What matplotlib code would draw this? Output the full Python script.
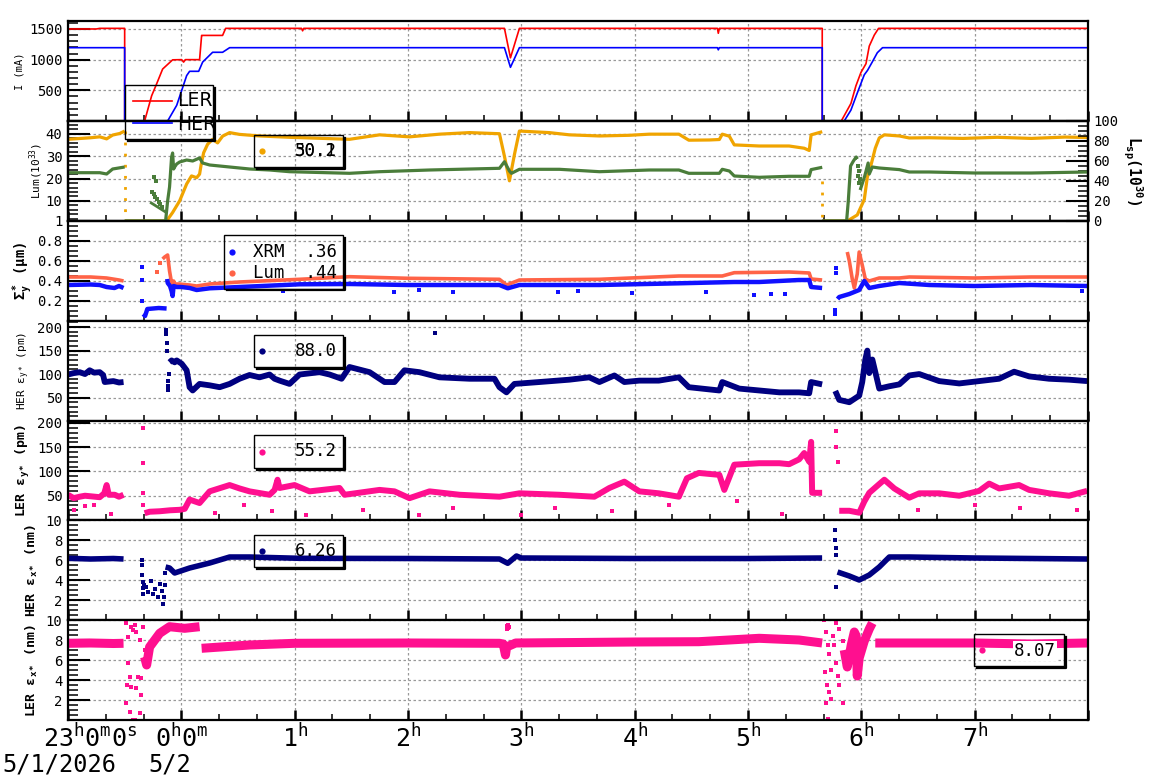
import numpy as np
import matplotlib
matplotlib.use("Agg")
import matplotlib.pyplot as plt
from matplotlib.ticker import MultipleLocator, FixedLocator
from matplotlib.patches import Rectangle
from matplotlib.lines import Line2D

nan = np.nan

# ---------------- data (time in hours, 0 = 5/2 00:00) ----------------
ler_t = [-1.0, -0.75, -0.72, -0.50, -0.50, -0.324, -0.262, -0.218, -0.165, -0.077, 0.003, 0.02, 0.035, 0.161,
         0.179, 0.188, 0.364, 0.391, 1.06, 1.07, 1.08, 2.851, 2.904, 2.983, 4.730, 4.738, 4.747, 5.655, 5.655,
         5.823, 5.908, 5.952, 5.996, 6.041, 6.070, 6.114, 6.152, 7.992]
ler_I = [1500, 1500, 1510, 1510, 0, 0, 411, 605, 847, 997, 1000, 960, 1000, 1000, 1395, 1395, 1395, 1510, 1510,
         1470, 1510, 1510, 1030, 1510, 1510, 1430, 1510, 1510, 0, 0, 285, 572, 789, 934, 1221, 1400, 1510, 1510]
her_t = [-1.0, -0.50, -0.50, -0.121, -0.041, 0.003, 0.047, 0.073, 0.153, 0.188, 0.276, 0.364, 0.426, 2.851, 2.904,
         2.983, 4.730, 4.738, 4.747, 5.655, 5.655, 5.849, 5.908, 5.966, 6.026, 6.055, 6.099, 6.141, 6.187, 7.992]
her_I = [1195, 1195, 0, 0, 255, 497, 740, 810, 810, 960, 1120, 1120, 1195, 1195, 875, 1195, 1195, 1160, 1195, 1195,
         0, 0, 177, 464, 753, 826, 970, 1113, 1195, 1195]

lum_t = [-1.0, -0.80, -0.72, -0.659, -0.606, -0.544, -0.50, -0.50, -0.50, -0.13, -0.077, -0.015, 0.047, 0.090,
         0.135, 0.161, 0.176, 0.197, 0.232, 0.276, 0.320, 0.364, 0.426, 0.514, 0.690, 0.955, 1.484, 1.749, 2.013,
         2.278, 2.543, 2.807, 2.851, 2.895, 2.940, 2.983, 3.246, 3.424, 3.689, 3.953, 4.129, 4.390, 4.478, 4.659,
         4.747, 4.773, 4.835, 4.879, 5.099, 5.363, 5.496, 5.540, 5.557, 5.655, 5.655, 5.655, 5.876, 5.964, 6.026,
         6.053, 6.088, 6.123, 6.158, 6.203, 6.335, 6.423, 6.6, 6.9, 7.2, 7.5, 7.8, 7.992]
lum_v = [37.6, 38.3, 38.7, 37.8, 39.5, 40.2, 41.3, nan, 1.0, 1.0, 4.8, 10.0, 17.6, 21.2, 20.4, 22.0, 26.6, 31.6,
         35.4, 37.6, 36.0, 39.0, 40.6, 39.8, 39.1, 38.5, 37.6, 39.6, 38.7, 39.9, 40.6, 40.1, 30.0, 19.0, 31.0, 41.3,
         40.6, 39.6, 39.1, 39.4, 39.9, 39.9, 37.2, 37.3, 37.5, 39.9, 39.0, 35.1, 34.6, 34.6, 33.6, 32.6, 39.6, 41.0,
         nan, 1.0, 1.0, 3.7, 10.6, 20.7, 26.6, 33.6, 38.2, 39.6, 39.1, 38.2, 38.3, 38.0, 38.5, 38.0, 38.6, 38.4]
lum_drop_t = [-0.50, -0.50, nan, 5.655, 5.655]
lum_drop_v = [41.3, 1.0, nan, 19.0, 3.0]

lsp_t = [-1.0, -0.72, -0.659, -0.606, -0.50, -0.50, -0.50, -0.139, -0.121, -0.104, -0.086, -0.077, -0.068, -0.059,
         -0.041, -0.015, 0.047, 0.100, 0.161, 0.188, 0.250, 0.426, 0.602, 0.779, 0.955, 1.484, 1.749, 2.190, 2.807,
         2.851, 2.895, 2.913, 2.983, 3.336, 3.689, 4.129, 4.390, 4.478, 4.747, 4.773, 4.835, 4.879, 5.099, 5.363,
         5.540, 5.557, 5.655, 5.655, 5.655, 5.870, 5.885, 5.905, 5.930, 5.955, 5.965, 5.975, 5.990, 6.030, 6.060,
         6.070, 6.097, 6.158, 6.335, 6.423, 6.6, 7.0, 7.5, 7.992]
lsp_v = [48.3, 48.3, 47.0, 52.0, 54.0, nan, 0, 0, 20, 34, 64, 68, 52, 54, 57, 59, 61, 60, 63, 58, 56, 54, 52, 51,
         49.3, 47.7, 49.3, 51.0, 52.7, 59.3, 50.0, 47.7, 51.7, 51.7, 49.3, 51.0, 51.0, 47.7, 47.7, 51.7, 50.0, 45.0,
         43.7, 44.7, 44.7, 51.4, 53.7, nan, 0, 0, 20, 55, 60, 64, 62, nan, 31, 45, 58, 47, 54, 53, 51.4, 49, 49, 48,
         48, 49]
lsp_seg_t = [-0.265, -0.139]
lsp_seg_v = [18, 9]
lsp_pts_t = [-0.26, -0.245, -0.23, -0.215, -0.20, -0.185, -0.17, -0.24, -0.22, 5.968, 5.972, 5.978, 5.983, 5.987]
lsp_pts_v = [29, 27, 24, 22, 19, 17, 14, 44, 40, 55, 45, 50, 38, 42]

xrm_t = [-1.0, -0.80, -0.72, -0.66, -0.59, -0.55, -0.51, -0.34, -0.335, -0.32, -0.30, -0.20, -0.13, -0.13, -0.125,
         -0.12, -0.10, -0.086, -0.077, -0.068, -0.04, 0.0, 0.073, 0.135, 0.25, 0.514, 1.043, 1.484, 2.0, 2.5, 2.807,
         2.88, 2.983, 3.689, 4.390, 4.879, 5.099, 5.45, 5.540, 5.557, 5.654, 5.78, 5.79, 5.805, 5.894, 5.981, 6.026,
         6.070, 6.158, 6.335, 6.6, 7.0, 7.5, 7.992]
xrm_v = [0.36, 0.365, 0.36, 0.34, 0.33, 0.35, 0.33, nan, 0.07, 0.05, 0.12, 0.13, 0.125, nan, 0.42, 0.38, 0.35, 0.30,
         0.25, 0.35, 0.34, 0.34, 0.33, 0.31, 0.327, 0.34, 0.367, 0.37, 0.36, 0.36, 0.36, 0.327, 0.36, 0.36, 0.377,
         0.39, 0.39, 0.41, 0.41, 0.34, 0.33, nan, 0.22, 0.24, 0.27, 0.31, 0.40, 0.33, 0.35, 0.38, 0.36, 0.35, 0.36,
         0.35]
xrm_pts_t = [-0.35, -0.35, -0.345, 0.9, 1.88, 2.1, 2.40, 3.32, 3.5, 3.98, 4.63, 5.05, 5.20, 5.33, 5.77, 5.77, 5.78,
             5.78, 7.95]
xrm_pts_v = [0.54, 0.41, 0.20, 0.30, 0.29, 0.31, 0.29, 0.29, 0.30, 0.28, 0.29, 0.26, 0.27, 0.27, 0.11, 0.07, 0.53,
             0.48, 0.30]

slum_t = [-1.0, -0.8, -0.66, -0.55, -0.51, -0.235, -0.165, -0.147, -0.121, -0.104, -0.086, -0.077, -0.068, -0.059,
          -0.02, 0.073, 0.135, 0.25, 0.514, 1.043, 1.484, 2.0, 2.807, 2.87, 2.983, 3.689, 4.390, 4.773, 4.879, 5.363,
          5.540, 5.557, 5.654, 5.87, 5.876, 5.894, 5.920, 5.938, 5.964, 5.981, 6.008, 6.035, 6.070, 6.158, 6.335,
          6.423, 7.0, 7.5, 7.992]
slum_v = [0.44, 0.44, 0.43, 0.41, 0.40, nan, 0.62, 0.64, 0.66, 0.50, 0.38, 0.29, 0.40, 0.37, 0.37, 0.36, 0.35,
          0.37, 0.39, 0.417, 0.443, 0.427, 0.417, 0.36, 0.41, 0.417, 0.45, 0.45, 0.483, 0.49, 0.48, 0.42, 0.41, nan,
          0.69, 0.60, 0.42, 0.33, 0.47, 0.69, 0.56, 0.42, 0.40, 0.43, 0.43, 0.44, 0.43, 0.44, 0.44]
slum_pts_t = [-0.218, -0.19]
slum_pts_v = [0.49, 0.58]

hey_t = [-1.0, -0.95, -0.897, -0.85, -0.809, -0.77, -0.720, -0.69, -0.676, -0.60, -0.55, -0.51, -0.50, -0.104,
         -0.086, -0.059, -0.041, 0.003, 0.047, 0.073, 0.100, 0.161, 0.250, 0.338, 0.426, 0.514, 0.602, 0.690, 0.779,
         0.823, 0.867, 0.955, 1.043, 1.220, 1.308, 1.414, 1.484, 1.661, 1.793, 1.881, 1.969, 2.101, 2.278, 2.543,
         2.763, 2.807, 2.869, 2.939, 3.159, 3.424, 3.600, 3.689, 3.821, 3.909, 4.041, 4.213, 4.390, 4.478, 4.747,
         4.773, 4.923, 5.277, 5.451, 5.540, 5.557, 5.654, 5.66, 5.770, 5.805, 5.894, 5.981, 6.008, 6.035, 6.053,
         6.070, 6.097, 6.158, 6.247, 6.335, 6.423, 6.511, 6.687, 6.864, 7.040, 7.216, 7.348, 7.481, 7.657, 7.833,
         7.992]
hey_v = [99, 102, 104, 100, 108, 103, 104, 98, 83, 85, 82, 83, nan, 125, 129, 125, 129, 122, 108, 72, 65, 79, 76,
         72, 79, 90, 98, 93, 99, 90, 86, 79, 99, 104, 99, 90, 115, 104, 83, 83, 108, 104, 93, 90, 90, 72, 61, 79, 83,
         88, 93, 83, 97, 83, 86, 86, 93, 72, 65, 83, 69, 61, 61, 59, 83, 78, nan, 64, 45, 40, 54, 83, 131, 150, 102,
         131, 69, 74, 78, 97, 100, 85, 80, 85, 90, 105, 95, 90, 88, 85]
hey_pts_t = [-0.139, -0.135, -0.13, -0.125, -0.121, -0.118, -0.115, -0.11, 2.24]
hey_pts_v = [193, 185, 166, 150, 86, 65, 75, 100, 187]

ley_t = [-1.0, -0.95, -0.897, -0.85, -0.72, -0.68, -0.659, -0.64, -0.588, -0.55, -0.51, -0.50, -0.324, -0.28,
         -0.191, -0.10, -0.015, 0.03, 0.073, 0.161, 0.250, 0.426, 0.514, 0.602, 0.779, 0.823, 0.849, 0.867, 0.999,
         1.131, 1.396, 1.440, 1.749, 1.881, 2.013, 2.190, 2.455, 2.807, 2.983, 3.336, 3.644, 3.777, 3.909, 4.041,
         4.213, 4.390, 4.461, 4.566, 4.747, 4.791, 4.879, 5.099, 5.277, 5.363, 5.451, 5.496, 5.540, 5.557, 5.566,
         5.654, 5.66, 5.805, 5.894, 5.981, 6.026, 6.070, 6.158, 6.203, 6.291, 6.423, 6.511, 6.687, 6.864, 7.040,
         7.128, 7.216, 7.392, 7.481, 7.657, 7.833, 7.992]
ley_v = [52, 45, 48, 50, 47, 55, 72, 52, 52, 48, 52, nan, 14, 17, 18, 20, 21, 23, 42, 35, 59, 72, 65, 59, 52, 62,
         83, 66, 72, 59, 66, 52, 62, 59, 45, 59, 52, 48, 55, 52, 48, 66, 79, 59, 55, 48, 86, 97, 93, 62, 114, 117,
         117, 115, 125, 138, 120, 161, 56, 56, nan, 19, 19, 15, 38, 56, 74, 83, 65, 46, 55, 55, 50, 60, 75, 65, 72,
         62, 55, 50, 60]
ley_pts_t = [-0.341, -0.341, -0.341, -0.34, 5.779, 5.78, 5.79, -0.95, -0.85, -0.77, -0.62, 0.3, 0.55, 0.8, 1.1,
             1.6, 2.1, 2.4, 3.0, 3.3, 3.8, 4.3, 4.9, 5.3, 6.5, 7.0, 7.4, 7.9]
ley_pts_v = [189, 117, 55, 30, 184, 150, 120, 20, 28, 30, 12, 15, 30, 18, 10, 20, 10, 25, 10, 25, 18, 30, 40, 12,
             20, 30, 25, 20]

hex_t = [-1.0, -0.8, -0.6, -0.51, -0.50, -0.139, -0.104, -0.059, 0.073, 0.250, 0.426, 0.602, 1.043, 2.0, 2.807,
         2.88, 2.957, 3.0, 4.0, 5.0, 5.654, 5.66, 5.79, 5.894, 5.981, 6.070, 6.158, 6.247, 6.423, 7.0, 7.5, 7.992]
hex_v = [6.17, 6.1, 6.15, 6.1, nan, 5.3, 5.2, 4.7, 5.2, 5.7, 6.3, 6.3, 6.17, 6.15, 6.1, 5.67, 6.4, 6.2, 6.15,
         6.15, 6.2, nan, 4.8, 4.4, 4.0, 4.5, 5.3, 6.3, 6.3, 6.2, 6.15, 6.1]
hex_pts_t = [-0.345, -0.345, -0.343, -0.34, -0.338, -0.335, -0.33, -0.31, -0.29, -0.27, -0.25, -0.23, -0.21, -0.19,
             -0.17, -0.16, -0.15, -0.145, -0.14, 5.77, 5.77, 5.775, 5.78, 5.78]
hex_pts_v = [6.0, 5.5, 4.5, 3.8, 3.2, 2.6, 3.5, 3.3, 2.8, 3.9, 2.6, 3.1, 2.3, 3.6, 2.9, 1.6, 2.3, 3.5, 4.7, 9.0,
             8.0, 7.2, 3.3, 6.5]

lex_t = [-1.0, -0.8, -0.6, -0.51, -0.50, -0.324, -0.306, -0.28, -0.191, -0.104, 0.029, 0.161, 0.17, 0.179, 0.602,
         1.0, 2.0, 2.807, 2.84, 2.86, 2.87, 2.95, 3.5, 4.0, 4.566, 5.099, 5.45, 5.654, 5.66,
         5.849, 5.876, 5.911, 5.938, 5.955, 5.964, 5.981, 6.026, 6.070, 6.097, 6.11, 6.123, 6.2, 7.0, 7.5, 7.992]
lex_v = [7.67, 7.7, 7.65, 7.67, nan, 6.3, 5.5, 7.3, 8.67, 9.33, 9.17, 9.33, nan, 7.17, 7.5, 7.67, 7.7, 7.67, 7.6,
         6.5, 7.3, 7.7, 7.75, 7.8, 7.83, 8.17, 8.0, 7.7, nan,
         7.0, 5.3, 7.5, 8.8, 8.4, 4.4, 6.2, 7.9, 9.1, 9.7, nan, 7.7, 7.7, 7.7, 7.6, 7.7]
lex_pts_t = [-0.485, -0.441, -0.427, -0.412, -0.397, -0.471, -0.368, -0.471, -0.456, -0.476, -0.485, -0.441, -0.397,
             -0.383, -0.353, -0.353, -0.456, -0.368, -0.427, -0.412, -0.339, -0.324,
             5.672, 5.688, 5.702, 5.717, 5.682, 5.693, 5.711, 5.732, 5.688, 5.702, 5.746, 5.761, 5.776, 5.790, 5.805,
             5.732, 5.776, 5.805, 5.834, 5.834,
             2.87, 2.875, 2.88, 2.885, 2.89]
lex_pts_v = [9.67, 9.33, 9.0, 9.5, 8.83, 8.33, 8.0, 5.67, 4.33, 3.5, 1.67, 3.33, 3.17, 4.33, 4.17, 2.5, 0.83, 0.67,
             0.0, 0.0, 9.33, 7.0,
             9.96, 8.8, 7.5, 6.6, 4.8, 3.5, 2.8, 2.1, 1.7, 0.1, 8.4, 7.5, 5.7, 4.4, 3.5, 5.0, 9.7, 9.1, 7.9, 1.7,
             9.1, 9.4, 9.2, 9.5, 9.3]

hour_ticks = [-1, 0, 1, 2, 3, 4, 5, 6, 7, 8]
hour_labels = ["", r"$0^h0^m$", r"$1^h$", r"$2^h$", r"$3^h$", r"$4^h$", r"$5^h$", r"$6^h$", r"$7^h$", ""]
leg_lum = ["50.2", "30.1"]
leg_sig = ["XRM  .36", "Lum  .44"]
leg_hey = "88.0"
leg_ley = "55.2"
leg_hex = "6.26"
leg_lex = "8.07"

# ---------------- style ----------------
plt.rcParams["font.family"] = ["DejaVu Sans Mono", "DejaVu Sans"]
plt.rcParams["mathtext.fontset"] = "custom"
plt.rcParams["mathtext.rm"] = "DejaVu Sans Mono"
plt.rcParams["mathtext.it"] = "DejaVu Sans Mono"
plt.rcParams["mathtext.bf"] = "DejaVu Sans Mono:bold"
plt.rcParams["mathtext.default"] = "rm"

C_LER = "#ff0000"
C_HER = "#0000ff"
C_ORANGE = "#f0a400"
C_GREEN = "#4a7d3a"
C_XRM = "#1010ff"
C_TOM = "#ff6347"
C_NAVY = "#000080"
C_PINK = "#ff0f8f"

W, H = 1160, 782
L, R = 68, 1088
edges = [21, 121, 221, 321, 421, 520, 620, 720]

fig = plt.figure(figsize=(W / 100, H / 100), dpi=100)
axes = []
for i in range(7):
    top, bot = edges[i], edges[i + 1]
    ax = fig.add_axes([L / W, 1 - bot / H, (R - L) / W, (bot - top) / H])
    axes.append(ax)


def style(ax, ylim, major, minor):
    ax.set_xlim(-1, 8)
    ax.set_ylim(*ylim)
    ax.yaxis.set_major_locator(FixedLocator(major))
    ax.yaxis.set_minor_locator(MultipleLocator(minor))
    ax.xaxis.set_major_locator(FixedLocator(hour_ticks))
    ax.xaxis.set_minor_locator(MultipleLocator(1 / 3))
    ax.tick_params(axis="y", which="major", direction="in", length=16, width=1.5, labelsize=10, pad=4, right=False)
    ax.tick_params(axis="y", which="minor", direction="in", length=7, width=1.1, right=False)
    ax.tick_params(axis="x", which="major", direction="in", length=7.5, width=1.8, top=False, labelbottom=False)
    ax.tick_params(axis="x", which="minor", direction="in", length=4, width=1.1, top=False)
    ax.grid(True, which="major", color="#999999", linestyle=(0, (2, 2)), linewidth=0.9)
    for s in ax.spines.values():
        s.set_linewidth(1.6)
    ax.set_axisbelow(True)


def ylab(ax, text, xc, size, bold=False):
    ax.set_ylabel(text, fontsize=size, fontweight="bold" if bold else "normal", va="center")
    ax.yaxis.set_label_coords((xc - L) / (R - L), 0.5)


band = dict(solid_joinstyle="round", solid_capstyle="butt")

# panel 1: currents
a = axes[0]
style(a, (0, 1630), [500, 1000, 1500], 100)
a.plot(ler_t, ler_I, color=C_LER, lw=1.2)
a.plot(her_t, her_I, color=C_HER, lw=1.2)
ylab(a, "I (mA)", 20, 7.5)

# panel 2: luminosity
a = axes[1]
style(a, (1, 45.8), [1, 10, 20, 30, 40], 2)
a.plot(lum_t, lum_v, color=C_ORANGE, lw=2.3, **band)
a.plot(lum_drop_t, lum_drop_v, color=C_ORANGE, lw=2.0, linestyle=(0, (1, 3)))
ylab(a, r"Lum(10$^{33}$)", 36, 8)
a2 = a.twinx()
a2.set_xlim(-1, 8)
a2.set_ylim(0, 100)
a2.yaxis.set_major_locator(MultipleLocator(20))
a2.yaxis.set_minor_locator(MultipleLocator(5))
a2.tick_params(axis="y", which="major", direction="in", length=16, width=1.5, labelsize=10, pad=4)
a2.tick_params(axis="y", which="minor", direction="in", length=7, width=1.1)
for s in a2.spines.values():
    s.set_linewidth(1.6)
a2.plot(lsp_t, lsp_v, color=C_GREEN, lw=2.3, **band)
a2.plot(lsp_seg_t, lsp_seg_v, color=C_GREEN, lw=2.0)
a2.plot(lsp_pts_t, lsp_pts_v, "s", ms=2.2, mew=0, color=C_GREEN)
a2.set_ylabel(r"L$_{\mathbf{sp}}$(10$^{\mathbf{30}}$)", fontsize=10.5, fontweight="bold", rotation=-90, va="center")
a2.yaxis.set_label_coords((1133 - L) / (R - L), 0.5)

# panel 3: sigma_y*
a = axes[2]
style(a, (0, 1), [0.2, 0.4, 0.6, 0.8], 0.05)
a.plot(slum_t, slum_v, color=C_TOM, lw=2.6, **band)
a.plot(slum_pts_t, slum_pts_v, "s", ms=2.4, mew=0, color=C_TOM)
a.plot(xrm_t, xrm_v, color=C_XRM, lw=3.2, **band)
a.plot(xrm_pts_t, xrm_pts_v, "s", ms=2.2, mew=0, color=C_XRM)
ylab(a, r"$\mathbf{\Sigma_y^*}$ (μm)", 23, 10, bold=True)

# panel 4: HER eps_y*
a = axes[3]
style(a, (0, 213), [50, 100, 150, 200], 10)
a.plot(hey_t, hey_v, color=C_NAVY, lw=4.2, **band)
a.plot(hey_pts_t, hey_pts_v, "s", ms=2.4, mew=0, color=C_NAVY)
ylab(a, r"HER ε$_{y*}$ (pm)", 24, 8)

# panel 5: LER eps_y*
a = axes[4]
style(a, (0, 204), [50, 100, 150, 200], 10)
a.plot(ley_t, ley_v, color=C_PINK, lw=4.3, **band)
a.plot(ley_pts_t, ley_pts_v, "s", ms=2.2, mew=0, color=C_PINK)
ylab(a, r"LER ε$_{\mathbf{y*}}$ (pm)", 23, 9.5, bold=True)

# panel 6: HER eps_x*
a = axes[5]
style(a, (0, 10), [2, 4, 6, 8, 10], 0.5)
a.plot(hex_t, hex_v, color=C_NAVY, lw=4.0, **band)
a.plot(hex_pts_t, hex_pts_v, "s", ms=2.4, mew=0, color=C_NAVY)
ylab(a, r"HER ε$_{\mathbf{x*}}$ (nm)", 32, 9.5, bold=True)

# panel 7: LER eps_x*
a = axes[6]
style(a, (0, 10), [2, 4, 6, 8, 10], 0.5)
a.plot(lex_t, lex_v, color=C_PINK, lw=6.5, **band)
a.plot(lex_pts_t, lex_pts_v, "s", ms=2.6, mew=0, color=C_PINK)
ylab(a, r"LER ε$_{\mathbf{x*}}$ (nm)", 32, 9.5, bold=True)
a.set_xticks(hour_ticks)
a.set_xticklabels(hour_labels, fontsize=18)
a.tick_params(axis="x", which="major", labelbottom=True, pad=3)

fig.text(90 / W, 1 - 724 / H, r"$23^h0^m0^s$", ha="center", va="top", fontsize=18)
fig.text(59 / W, 1 - 765 / H, "5/1/2026", ha="center", va="center", fontsize=17)
fig.text(170 / W, 1 - 765 / H, "5/2", ha="center", va="center", fontsize=17)


# ---------------- legends (drawn as boxes) ----------------
def P(x, y):
    return x / W, 1 - y / H


def box(x0, y0, x1, y1):
    fig.add_artist(Rectangle(P(x0, y1), (x1 - x0) / W, (y1 - y0) / H, transform=fig.transFigure,
                             fill=False, edgecolor="black", linewidth=1.0, zorder=6))
    xs = [(x0 + 3) / W, (x1 + 1.5) / W, (x1 + 1.5) / W]
    ys = [1 - (y1 + 1.5) / H, 1 - (y1 + 1.5) / H, 1 - (y0 + 3) / H]
    fig.add_artist(Line2D(xs, ys, transform=fig.transFigure, color="black", linewidth=1.6, zorder=6))


def dot(x, y, c):
    fig.add_artist(Line2D([x / W], [1 - y / H], transform=fig.transFigure, marker="o", ms=4.5, mew=0,
                          color=c, zorder=7))


# panel 1 legend
box(125, 85, 213, 139)
fig.add_artist(Line2D([133 / W, 172 / W], [1 - 100.5 / H] * 2, transform=fig.transFigure, color=C_LER, lw=1.2, zorder=7))
fig.add_artist(Line2D([133 / W, 172 / W], [1 - 123 / H] * 2, transform=fig.transFigure, color=C_HER, lw=1.2, zorder=7))
fig.text(*P(177, 101), "LER", family="DejaVu Sans", fontsize=13.5, ha="left", va="center", zorder=7)
fig.text(*P(177, 124), "HER", family="DejaVu Sans", fontsize=13.5, ha="left", va="center", zorder=7)

# panel 2 legend
box(254, 135, 343, 167)
dot(262, 151, C_ORANGE)
for s in leg_lum:
    fig.text(*P(337, 151), s, fontsize=12.5, ha="right", va="center", zorder=7)

# panel 3 legend
box(224, 235, 343, 289)
dot(232, 251.7, C_XRM)
dot(232, 272.7, C_TOM)
fig.text(*P(337, 251.7), leg_sig[0], fontsize=12.5, ha="right", va="center", zorder=7)
fig.text(*P(337, 272.7), leg_sig[1], fontsize=12.5, ha="right", va="center", zorder=7)

# panels 4-6 legends
for (y0, y1, c, s) in [(335, 367, C_NAVY, leg_hey), (435, 468, C_PINK, leg_ley), (535, 567, C_NAVY, leg_hex)]:
    box(254, y0, 343, y1)
    yc = (y0 + y1) / 2
    dot(262, yc, c)
    fig.text(*P(337, yc), s, fontsize=12.5, ha="right", va="center", zorder=7)

# panel 7 legend
box(974, 634, 1064, 666)
dot(982, 650, C_PINK)
fig.text(*P(1056, 651), leg_lex, fontsize=12.5, ha="right", va="center", zorder=7,
         bbox=dict(facecolor="white", edgecolor="none", pad=0.5))

fig.savefig("out.png", dpi=100)
